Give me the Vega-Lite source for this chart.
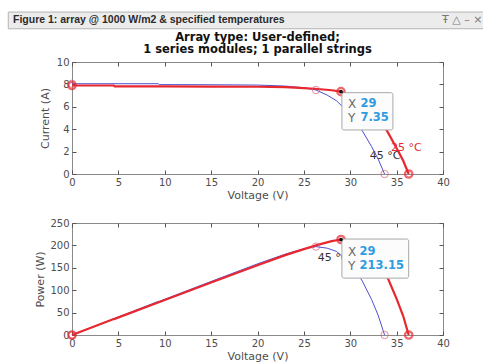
{
  "$schema": "https://vega.github.io/schema/vega-lite/v6.json",
  "padding": {"left": 7, "top": 11, "right": 0, "bottom": 0},
  "background": "white",
  "spacing": 16,
  "config": {
    "font": "DejaVu Sans",
    "view": {"stroke": "#8a8a8a", "strokeWidth": 1},
    "axis": {
      "grid": false,
      "domain": false,
      "labelFont": "DejaVu Sans",
      "labelFontSize": 10,
      "labelColor": "#4d4d4d",
      "labelFlush": false,
      "titleFont": "DejaVu Sans",
      "titleFontSize": 11,
      "titleFontWeight": "normal",
      "titleColor": "#4d4d4d",
      "tickColor": "#555555",
      "tickSize": -4,
      "labelPadding": 7,
      "titlePadding": 2
    }
  },
  "datasets": {
    "curves": [
      {"T": "45 °C", "V": 0, "I": 8.06, "P": 0},
      {"T": "45 °C", "V": 9.3, "I": 8.06, "P": 74.96},
      {"T": "45 °C", "V": 9.4, "I": 7.98, "P": 75.01},
      {"T": "45 °C", "V": 15, "I": 7.97, "P": 119.55},
      {"T": "45 °C", "V": 20, "I": 7.94, "P": 158.8},
      {"T": "45 °C", "V": 23, "I": 7.85, "P": 180.55},
      {"T": "45 °C", "V": 25, "I": 7.7, "P": 192.5},
      {"T": "45 °C", "V": 26.3, "I": 7.5, "P": 197.25},
      {"T": "45 °C", "V": 27.5, "I": 7.05, "P": 193.88},
      {"T": "45 °C", "V": 28.5, "I": 6.55, "P": 186.68},
      {"T": "45 °C", "V": 29.5, "I": 5.75, "P": 169.63},
      {"T": "45 °C", "V": 30.5, "I": 4.75, "P": 144.88},
      {"T": "45 °C", "V": 31.3, "I": 3.85, "P": 120.51},
      {"T": "45 °C", "V": 32.3, "I": 2.45, "P": 79.14},
      {"T": "45 °C", "V": 33.0, "I": 1.35, "P": 44.55},
      {"T": "45 °C", "V": 33.7, "I": 0, "P": 0},
      {"T": "25 °C", "V": 0, "I": 7.9, "P": 0},
      {"T": "25 °C", "V": 4.5, "I": 7.9, "P": 35.55},
      {"T": "25 °C", "V": 4.6, "I": 7.83, "P": 36.02},
      {"T": "25 °C", "V": 10, "I": 7.82, "P": 78.2},
      {"T": "25 °C", "V": 15, "I": 7.81, "P": 117.15},
      {"T": "25 °C", "V": 20, "I": 7.79, "P": 155.8},
      {"T": "25 °C", "V": 23, "I": 7.75, "P": 178.25},
      {"T": "25 °C", "V": 25, "I": 7.67, "P": 191.75},
      {"T": "25 °C", "V": 26.5, "I": 7.59, "P": 201.14},
      {"T": "25 °C", "V": 28, "I": 7.48, "P": 209.44},
      {"T": "25 °C", "V": 29, "I": 7.35, "P": 213.15},
      {"T": "25 °C", "V": 30, "I": 7.0, "P": 210.0},
      {"T": "25 °C", "V": 31, "I": 6.45, "P": 199.95},
      {"T": "25 °C", "V": 32, "I": 5.8, "P": 185.6},
      {"T": "25 °C", "V": 33, "I": 4.95, "P": 163.35},
      {"T": "25 °C", "V": 34, "I": 3.8, "P": 129.2},
      {"T": "25 °C", "V": 35, "I": 2.3, "P": 80.5},
      {"T": "25 °C", "V": 35.7, "I": 1.2, "P": 42.84},
      {"T": "25 °C", "V": 36.3, "I": 0, "P": 0}
    ],
    "markers": [
      {"T": "45 °C", "V": 0, "I": 8.06, "P": 0},
      {"T": "45 °C", "V": 26.3, "I": 7.5, "P": 197.25},
      {"T": "45 °C", "V": 33.7, "I": 0, "P": 0},
      {"T": "25 °C", "V": 0, "I": 7.9, "P": 0},
      {"T": "25 °C", "V": 29, "I": 7.35, "P": 213.15},
      {"T": "25 °C", "V": 36.3, "I": 0, "P": 0}
    ],
    "labels1": [
      {"T": "45 °C", "V": 32.1, "I": 1.6},
      {"T": "25 °C", "V": 34.4, "I": 2.35}
    ],
    "labels2": [
      {"T": "45 °C", "V": 26.5, "P": 171}
    ],
    "tip": [
      {"V": 29, "I": 7.35, "P": 213.15}
    ]
  },
  "vconcat": [
    {
      "width": 371,
      "height": 112,
      "resolve": {"axis": {"x": "independent", "y": "independent"}},
      "layer": [
        {
          "data": {"values": [{}]},
          "mark": {"type": "rect", "fill": "#ececec", "stroke": "#b4b4b4", "strokeWidth": 1},
          "encoding": {
            "x": {"datum": -6.87, "type": "quantitative", "scale": {"domain": [0, 40]}, "axis": null},
            "x2": {"datum": 44.6},
            "y": {"datum": 14.46, "type": "quantitative", "scale": {"domain": [0, 10]}, "axis": null},
            "y2": {"datum": 12.97}
          }
        },
        {
          "data": {"values": [{"t": "Figure 1: array @ 1000 W/m2 & specified temperatures"}]},
          "mark": {"type": "text", "align": "left", "baseline": "middle", "font": "Liberation Sans", "fontSize": 10.5, "fontWeight": "bold", "fill": "#2a2a2a"},
          "encoding": {
            "x": {"datum": -6.36, "type": "quantitative", "scale": {"domain": [0, 40]}, "axis": null},
            "y": {"datum": 13.72, "type": "quantitative", "scale": {"domain": [0, 10]}, "axis": null},
            "text": {"field": "t"}
          }
        },
        {
          "data": {"values": [{"t": "Ŧ  △  –  ×"}]},
          "mark": {"type": "text", "align": "right", "baseline": "middle", "fontSize": 11, "fill": "#7a7a7a"},
          "encoding": {
            "x": {"datum": 44.25, "type": "quantitative", "scale": {"domain": [0, 40]}, "axis": null},
            "y": {"datum": 13.72, "type": "quantitative", "scale": {"domain": [0, 10]}, "axis": null},
            "text": {"field": "t"}
          }
        },
        {
          "data": {"values": [{"t": ["Array type: User-defined;", "1 series modules; 1 parallel strings"]}]},
          "mark": {"type": "text", "align": "center", "baseline": "top", "fontSize": 11.5, "fontWeight": "bold", "lineHeight": 12.5, "fill": "#111111"},
          "encoding": {
            "x": {"datum": 20, "type": "quantitative", "scale": {"domain": [0, 40]}, "axis": null},
            "y": {"datum": 12.68, "type": "quantitative", "scale": {"domain": [0, 10]}, "axis": null},
            "text": {"field": "t"}
          }
        },
        {
          "data": {"name": "labels1"},
          "mark": {"type": "text", "align": "left", "baseline": "middle", "fontSize": 11},
          "encoding": {
            "x": {"field": "V", "type": "quantitative", "scale": {"domain": [0, 40]}, "axis": null},
            "y": {"field": "I", "type": "quantitative", "scale": {"domain": [0, 10]}, "axis": null},
            "text": {"field": "T"},
            "fill": {"field": "T", "type": "nominal", "scale": {"domain": ["25 °C", "45 °C"], "range": ["#e8282f", "#333333"]}, "legend": null}
          }
        },
        {
          "data": {"name": "curves"},
          "mark": {"type": "line"},
          "encoding": {
            "x": {"field": "V", "type": "quantitative", "scale": {"domain": [0, 40]}, "axis": {"title": "Voltage (V)", "values": [0, 5, 10, 15, 20, 25, 30, 35, 40]}},
            "y": {"field": "I", "type": "quantitative", "scale": {"domain": [0, 10]}, "axis": {"title": "Current (A)", "values": [0, 2, 4, 6, 8, 10], "titlePadding": 6}},
            "color": {"field": "T", "type": "nominal", "scale": {"domain": ["25 °C", "45 °C"], "range": ["#e8282f", "#5050d0"]}, "legend": null},
            "strokeWidth": {"field": "T", "type": "nominal", "scale": {"domain": ["25 °C", "45 °C"], "range": [2.2, 1]}, "legend": null}
          }
        },
        {
          "data": {"name": "markers"},
          "mark": {"type": "point", "shape": "circle", "filled": false, "size": 55},
          "encoding": {
            "x": {"field": "V", "type": "quantitative", "scale": {"domain": [0, 40]}, "axis": {"orient": "top", "labels": false, "title": null, "values": [0, 5, 10, 15, 20, 25, 30, 35, 40]}},
            "y": {"field": "I", "type": "quantitative", "scale": {"domain": [0, 10]}, "axis": {"orient": "right", "labels": false, "title": null, "values": [0, 2, 4, 6, 8, 10]}},
            "stroke": {"field": "T", "type": "nominal", "scale": {"domain": ["25 °C", "45 °C"], "range": ["#e8282f", "#e05a7a"]}, "legend": null},
            "strokeWidth": {"field": "T", "type": "nominal", "legend": null}
          }
        },
        {
          "data": {"values": [{}]},
          "mark": {"type": "rect", "fill": "#fcfcfc", "stroke": "#a8a8a8", "strokeWidth": 1, "cornerRadius": 2},
          "encoding": {
            "x": {"datum": 29.1, "type": "quantitative", "scale": {"domain": [0, 40]}, "axis": null},
            "x2": {"datum": 34.6},
            "y": {"datum": 7.26, "type": "quantitative", "scale": {"domain": [0, 10]}, "axis": null},
            "y2": {"datum": 3.93}
          }
        },
        {
          "data": {"values": [{"k": "X", "y": 6.22}, {"k": "Y", "y": 4.97}]},
          "mark": {"type": "text", "align": "left", "baseline": "middle", "fontSize": 12, "fill": "#6a6a6a"},
          "encoding": {
            "x": {"datum": 29.76, "type": "quantitative", "scale": {"domain": [0, 40]}, "axis": null},
            "y": {"field": "y", "type": "quantitative", "scale": {"domain": [0, 10]}, "axis": null},
            "text": {"field": "k"}
          }
        },
        {
          "data": {"name": "tip"},
          "mark": {"type": "text", "align": "left", "baseline": "middle", "fontSize": 11.5, "fontWeight": "bold", "fill": "#2f9be0"},
          "encoding": {
            "x": {"datum": 31.1, "type": "quantitative", "scale": {"domain": [0, 40]}, "axis": null},
            "y": {"datum": 6.22, "type": "quantitative", "scale": {"domain": [0, 10]}, "axis": null},
            "text": {"field": "V", "format": "d"}
          }
        },
        {
          "data": {"name": "tip"},
          "mark": {"type": "text", "align": "left", "baseline": "middle", "fontSize": 11.5, "fontWeight": "bold", "fill": "#2f9be0"},
          "encoding": {
            "x": {"datum": 31.1, "type": "quantitative", "scale": {"domain": [0, 40]}, "axis": null},
            "y": {"datum": 4.97, "type": "quantitative", "scale": {"domain": [0, 10]}, "axis": null},
            "text": {"field": "I", "format": ".2f"}
          }
        },
        {
          "data": {"name": "tip"},
          "mark": {"type": "point", "shape": "circle", "filled": true, "size": 14, "fill": "#111111", "opacity": 1},
          "encoding": {
            "x": {"field": "V", "type": "quantitative", "scale": {"domain": [0, 40]}, "axis": null},
            "y": {"field": "I", "type": "quantitative", "scale": {"domain": [0, 10]}, "axis": null}
          }
        }
      ]
    },
    {
      "width": 371,
      "height": 112,
      "resolve": {"axis": {"x": "independent", "y": "independent"}},
      "layer": [
        {
          "data": {"name": "labels2"},
          "mark": {"type": "text", "align": "left", "baseline": "middle", "fontSize": 11, "fill": "#333333"},
          "encoding": {
            "x": {"field": "V", "type": "quantitative", "scale": {"domain": [0, 40]}, "axis": null},
            "y": {"field": "P", "type": "quantitative", "scale": {"domain": [0, 250]}, "axis": null},
            "text": {"field": "T"}
          }
        },
        {
          "data": {"name": "curves"},
          "mark": {"type": "line"},
          "encoding": {
            "x": {"field": "V", "type": "quantitative", "scale": {"domain": [0, 40]}, "axis": {"title": "Voltage (V)", "values": [0, 5, 10, 15, 20, 25, 30, 35, 40]}},
            "y": {"field": "P", "type": "quantitative", "scale": {"domain": [0, 250]}, "axis": {"title": "Power (W)", "values": [0, 50, 100, 150, 200, 250], "titlePadding": 4}},
            "color": {"field": "T", "type": "nominal", "scale": {"domain": ["25 °C", "45 °C"], "range": ["#e8282f", "#5050d0"]}, "legend": null},
            "strokeWidth": {"field": "T", "type": "nominal", "scale": {"domain": ["25 °C", "45 °C"], "range": [2.2, 1]}, "legend": null}
          }
        },
        {
          "data": {"name": "markers"},
          "mark": {"type": "point", "shape": "circle", "filled": false, "size": 55},
          "encoding": {
            "x": {"field": "V", "type": "quantitative", "scale": {"domain": [0, 40]}, "axis": {"orient": "top", "labels": false, "title": null, "values": [0, 5, 10, 15, 20, 25, 30, 35, 40]}},
            "y": {"field": "P", "type": "quantitative", "scale": {"domain": [0, 250]}, "axis": {"orient": "right", "labels": false, "title": null, "values": [0, 50, 100, 150, 200, 250]}},
            "stroke": {"field": "T", "type": "nominal", "scale": {"domain": ["25 °C", "45 °C"], "range": ["#e8282f", "#e05a7a"]}, "legend": null},
            "strokeWidth": {"field": "T", "type": "nominal", "legend": null}
          }
        },
        {
          "data": {"values": [{}]},
          "mark": {"type": "rect", "fill": "#fcfcfc", "stroke": "#a8a8a8", "strokeWidth": 1, "cornerRadius": 2},
          "encoding": {
            "x": {"datum": 29.1, "type": "quantitative", "scale": {"domain": [0, 40]}, "axis": null},
            "x2": {"datum": 36.3},
            "y": {"datum": 214.2, "type": "quantitative", "scale": {"domain": [0, 250]}, "axis": null},
            "y2": {"datum": 126.9}
          }
        },
        {
          "data": {"values": [{"k": "X", "y": 184.4}, {"k": "Y", "y": 154.4}]},
          "mark": {"type": "text", "align": "left", "baseline": "middle", "fontSize": 12, "fill": "#6a6a6a"},
          "encoding": {
            "x": {"datum": 29.76, "type": "quantitative", "scale": {"domain": [0, 40]}, "axis": null},
            "y": {"field": "y", "type": "quantitative", "scale": {"domain": [0, 250]}, "axis": null},
            "text": {"field": "k"}
          }
        },
        {
          "data": {"name": "tip"},
          "mark": {"type": "text", "align": "left", "baseline": "middle", "fontSize": 11.5, "fontWeight": "bold", "fill": "#2f9be0"},
          "encoding": {
            "x": {"datum": 31.0, "type": "quantitative", "scale": {"domain": [0, 40]}, "axis": null},
            "y": {"datum": 184.4, "type": "quantitative", "scale": {"domain": [0, 250]}, "axis": null},
            "text": {"field": "V", "format": "d"}
          }
        },
        {
          "data": {"name": "tip"},
          "mark": {"type": "text", "align": "left", "baseline": "middle", "fontSize": 11.5, "fontWeight": "bold", "fill": "#2f9be0"},
          "encoding": {
            "x": {"datum": 31.0, "type": "quantitative", "scale": {"domain": [0, 40]}, "axis": null},
            "y": {"datum": 154.4, "type": "quantitative", "scale": {"domain": [0, 250]}, "axis": null},
            "text": {"field": "P", "format": ".2f"}
          }
        },
        {
          "data": {"name": "tip"},
          "mark": {"type": "point", "shape": "circle", "filled": true, "size": 14, "fill": "#111111", "opacity": 1},
          "encoding": {
            "x": {"field": "V", "type": "quantitative", "scale": {"domain": [0, 40]}, "axis": null},
            "y": {"field": "P", "type": "quantitative", "scale": {"domain": [0, 250]}, "axis": null}
          }
        }
      ]
    }
  ]
}
